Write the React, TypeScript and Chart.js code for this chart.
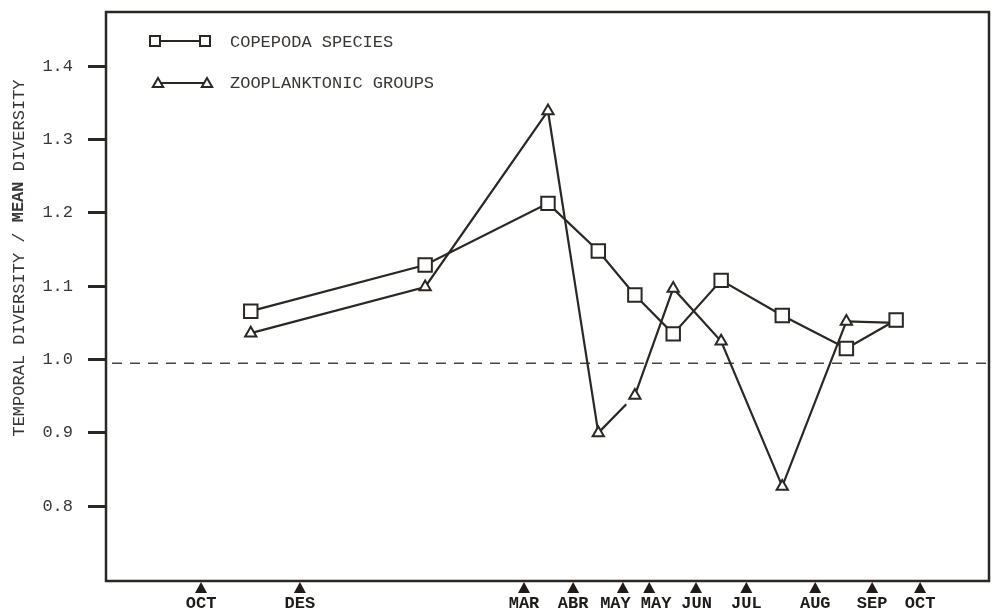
import { useEffect, useRef } from "react";
import { Chart, registerables } from "chart.js";

Chart.register(...registerables);

// Sampling dates (months after the first October sample) and their labels
const sampleMonths = [0, 1.65, 5.39, 6.21, 7.04, 7.48, 8.26, 9.1, 10.25, 11.2, 12.0];
const sampleLabels = ["OCT", "DES", "MAR", "ABR", "MAY", "MAY", "JUN", "JUL", "AUG", "SEP", "OCT"];

// Positions of the plotted ratios (months after the first October sample)
const pointMonths = [0.83, 3.74, 5.79, 6.63, 7.24, 7.88, 8.68, 9.7, 10.77, 11.6];

// Temporal diversity / mean diversity
const copepodaSpecies = [1.066, 1.129, 1.213, 1.148, 1.088, 1.035, 1.108, 1.06, 1.015, 1.054];
const zooplanktonicGroups = [1.036, 1.099, 1.339, 0.9, 0.951, 1.097, 1.025, 0.827, 1.052, 1.05];

const yTicks = [0.8, 0.9, 1.0, 1.1, 1.2, 1.3, 1.4];
const meanLevel = 0.995;

const titleParts = [
  { text: "TEMPORAL DIVERSITY / ", bold: false },
  { text: "MEAN", bold: true },
  { text: " DIVERSITY", bold: false },
];

const INK = "#2b2724";
const TEXT = "#3a3634";
const MONO = "'Liberation Mono', 'DejaVu Sans Mono', monospace";

function drawSquare(ctx: CanvasRenderingContext2D, x: number, y: number, s: number) {
  ctx.beginPath();
  ctx.rect(x - s / 2, y - s / 2, s, s);
  ctx.fillStyle = "#fff";
  ctx.fill();
  ctx.stroke();
}

function drawTriangle(ctx: CanvasRenderingContext2D, x: number, y: number, r: number) {
  const w = r * Math.sqrt(3) / 2;
  ctx.beginPath();
  ctx.moveTo(x, y - r);
  ctx.lineTo(x + w, y + r / 2);
  ctx.lineTo(x - w, y + r / 2);
  ctx.closePath();
  ctx.fillStyle = "#fff";
  ctx.fill();
  ctx.stroke();
}

// Spread neighbouring month labels apart so they never collide
function labelCentres(xs: number[], widths: number[], gap: number) {
  const c = xs.slice();
  for (let pass = 0; pass < 10; pass++) {
    for (let i = 1; i < c.length; i++) {
      const need = (widths[i - 1] + widths[i]) / 2 + gap;
      const have = c[i] - c[i - 1];
      if (have < need) {
        const push = (need - have) / 2;
        c[i - 1] -= push;
        c[i] += push;
      }
    }
  }
  return c;
}

const decorations = {
  id: "decorations",
  beforeDatasetsDraw(chart: any) {
    const { ctx, chartArea, scales } = chart;
    // dashed mean level
    const y = scales.y.getPixelForValue(meanLevel);
    ctx.save();
    ctx.strokeStyle = "#4a4542";
    ctx.lineWidth = 1.3;
    ctx.setLineDash([10, 8]);
    ctx.beginPath();
    ctx.moveTo(chartArea.left + 6, y);
    ctx.lineTo(chartArea.right, y);
    ctx.stroke();
    ctx.restore();
  },
  afterDraw(chart: any) {
    const { ctx, chartArea, scales } = chart;
    ctx.save();
    // frame
    ctx.strokeStyle = INK;
    ctx.lineWidth = 2.5;
    ctx.strokeRect(chartArea.left, chartArea.top, chartArea.right - chartArea.left, chartArea.bottom - chartArea.top);

    // sampling markers below the axis
    ctx.fillStyle = "#1f1b19";
    const xs = sampleMonths.map((m) => scales.x.getPixelForValue(m));
    for (const x of xs) {
      ctx.beginPath();
      ctx.moveTo(x, chartArea.bottom + 1);
      ctx.lineTo(x + 6, chartArea.bottom + 12);
      ctx.lineTo(x - 6, chartArea.bottom + 12);
      ctx.closePath();
      ctx.fill();
    }

    // month labels
    ctx.font = `bold 17px ${MONO}`;
    ctx.textAlign = "center";
    ctx.textBaseline = "middle";
    const widths = sampleLabels.map((t) => ctx.measureText(t).width);
    const centres = labelCentres(xs, widths, 10);
    sampleLabels.forEach((t, i) => ctx.fillText(t, centres[i], chartArea.bottom + 23));

    // legend
    const lx = chartArea.left;
    const ly = chartArea.top;
    ctx.strokeStyle = INK;
    ctx.lineWidth = 2;
    ctx.beginPath();
    ctx.moveTo(lx + 50, ly + 29);
    ctx.lineTo(lx + 99, ly + 29);
    ctx.stroke();
    drawSquare(ctx, lx + 49, ly + 29, 10);
    drawSquare(ctx, lx + 99, ly + 29, 10);
    ctx.beginPath();
    ctx.moveTo(lx + 52, ly + 71);
    ctx.lineTo(lx + 101, ly + 71);
    ctx.stroke();
    drawTriangle(ctx, lx + 52, ly + 72, 6);
    drawTriangle(ctx, lx + 101, ly + 72, 6);

    ctx.fillStyle = TEXT;
    ctx.font = `17px ${MONO}`;
    ctx.textBaseline = "middle";
    ctx.textAlign = "left";
    ctx.fillText("COPEPODA SPECIES", lx + 124, ly + 30);
    ctx.fillText("ZOOPLANKTONIC GROUPS", lx + 124, ly + 71);

    // rotated axis title
    ctx.translate(19, 258);
    ctx.rotate(-Math.PI / 2);
    const fonts = titleParts.map((p) => `${p.bold ? "bold " : ""}17px ${MONO}`);
    let total = 0;
    const tw = titleParts.map((p, i) => {
      ctx.font = fonts[i];
      const w = ctx.measureText(p.text).width;
      total += w;
      return w;
    });
    let cx = -total / 2;
    titleParts.forEach((p, i) => {
      ctx.font = fonts[i];
      ctx.fillText(p.text, cx, 0);
      cx += tw[i];
    });
    ctx.restore();
  },
};

function clearPadding(axis: any) {
  axis.paddingTop = 0;
  axis.paddingBottom = 0;
  axis.paddingLeft = 0;
  axis.paddingRight = 0;
}

export default function App() {
  const canvasRef = useRef<HTMLCanvasElement | null>(null);

  useEffect(() => {
    const canvas = canvasRef.current;
    if (!canvas) return;
    const chart = new Chart(canvas, {
      type: "line",
      data: {
        datasets: [
          {
            label: "COPEPODA SPECIES",
            data: pointMonths.map((x, i) => ({ x, y: copepodaSpecies[i] })),
            borderColor: INK,
            borderWidth: 2.2,
            pointStyle: "rect",
            pointRadius: 9.5,
            pointBorderWidth: 2,
            pointBackgroundColor: "#fff",
            pointBorderColor: INK,
            tension: 0,
          },
          {
            label: "ZOOPLANKTONIC GROUPS",
            data: pointMonths.map((x, i) => ({ x, y: zooplanktonicGroups[i] })),
            borderColor: INK,
            borderWidth: 2.2,
            pointStyle: "triangle",
            pointRadius: 6.5,
            pointBorderWidth: 2,
            pointBackgroundColor: "#fff",
            pointBorderColor: INK,
            tension: 0,
            segment: {
              borderDash: (ctx: any) => (ctx.p0DataIndex === 3 ? [40, 100] : undefined),
            },
          },
        ],
      },
      options: {
        animation: false,
        responsive: false,
        layout: { autoPadding: false, padding: { top: 12, right: 6, left: 0, bottom: 0 } },
        plugins: { legend: { display: false }, tooltip: { enabled: false } },
        scales: {
          x: {
            type: "linear",
            min: -1.586,
            max: 13.15,
            afterBuildTicks: (axis: any) => {
              axis.ticks = sampleMonths.map((v) => ({ value: v }));
            },
            afterFit: (axis: any) => {
              axis.height = 31;
              clearPadding(axis);
            },
            grid: { display: false, drawTicks: false },
            border: { display: false },
            ticks: { display: false },
          },
          y: {
            type: "linear",
            min: 0.698,
            max: 1.474,
            afterBuildTicks: (axis: any) => {
              axis.ticks = yTicks.map((v) => ({ value: v }));
            },
            afterFit: (axis: any) => {
              axis.width = 106;
              clearPadding(axis);
            },
            grid: {
              drawOnChartArea: false,
              drawTicks: true,
              tickLength: 18,
              color: INK,
              lineWidth: 3,
            },
            border: { display: false },
            ticks: {
              padding: 15,
              color: TEXT,
              font: { family: MONO, size: 17 },
              callback: (v: any) => Number(v).toFixed(1),
            },
          },
        },
      },
      plugins: [decorations],
    } as any);
    return () => chart.destroy();
  }, []);

  return (
    <div style={{ position: "absolute", left: 0, top: 0, width: 995, height: 612, background: "#fff" }}>
      <canvas ref={canvasRef} width={995} height={612} style={{ display: "block" }} />
    </div>
  );
}
